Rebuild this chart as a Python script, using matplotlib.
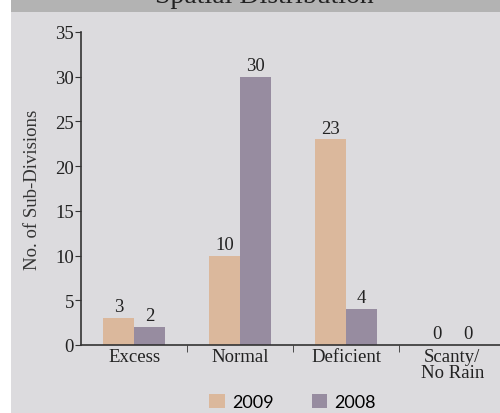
import matplotlib.pyplot as plt
import numpy as np
from matplotlib.patches import Rectangle

categories = ["Excess", "Normal", "Deficient", "Scanty/\nNo Rain"]
y2009 = [3, 10, 23, 0]
y2008 = [2, 30, 4, 0]
years = ["2009", "2008"]

c2009 = "#dbb89c"
c2008 = "#978ca0"
panel = "#dcdbde"

plt.rcParams['font.family'] = ['Liberation Serif', 'DejaVu Serif']

fig = plt.figure(figsize=(5, 4.14), dpi=100, facecolor="white")

# grey panel and header band (behind the axes)
fig.patches.append(Rectangle((11 / 500, 0), 1, 401 / 414, transform=fig.transFigure,
                             facecolor=panel, edgecolor="none", zorder=-10))
fig.patches.append(Rectangle((11 / 500, 401 / 414), 1, 13 / 414, transform=fig.transFigure,
                             facecolor="#b3b3b3", edgecolor="none", zorder=-10))
fig.text(0.528, 1.008, "Spatial Distribution", ha="center", va="center",
         fontsize=20, color="#222222")

ax = fig.add_axes([81 / 500, 68 / 414, 1 - 81 / 500, 313 / 414])
ax.set_facecolor("none")

x = np.arange(len(categories))
w = 0.29
b1 = ax.bar(x - w / 2, y2009, w, color=c2009, label=years[0])
b2 = ax.bar(x + w / 2, y2008, w, color=c2008, label=years[1])

for bars, vals in ((b1, y2009), (b2, y2008)):
    for rect, v in zip(bars, vals):
        ax.annotate(str(v), (rect.get_x() + rect.get_width() / 2, v),
                    xytext=(0, 2), textcoords="offset points",
                    ha="center", va="bottom", fontsize=13.5, color="#222222")

ax.set_xlim(-0.5, 3.45)
ax.set_ylim(0, 35)
ax.set_yticks(range(0, 36, 5))
ax.set_xticks(x)
ax.set_xticklabels(categories, fontsize=13.5, linespacing=0.95)
ax.set_xticks([0.5, 1.5, 2.5], minor=True)
ax.tick_params(axis="x", which="major", length=0, pad=2, colors="#222222")
ax.tick_params(axis="x", which="minor", length=5, direction="out", color="#333333")
ax.tick_params(axis="y", length=4, direction="out", pad=1, labelsize=13.5,
               colors="#222222", color="#333333")

for s in ("top", "right"):
    ax.spines[s].set_visible(False)
for s in ("left", "bottom"):
    ax.spines[s].set_color("#333333")
    ax.spines[s].set_linewidth(1.2)

ax.set_ylabel("No. of Sub-Divisions", fontsize=13.5, color="#333333", labelpad=10)

leg = fig.legend(handles=[b1, b2], labels=years, loc="center",
                 bbox_to_anchor=(0.585, 0.027), ncol=2, frameon=False,
                 handlelength=0.86, handleheight=0.86, columnspacing=2.1,
                 handletextpad=0.4, borderpad=0, prop={"family": "Lato", "size": 13})

fig.savefig("out.png", dpi=100, facecolor=fig.get_facecolor())
